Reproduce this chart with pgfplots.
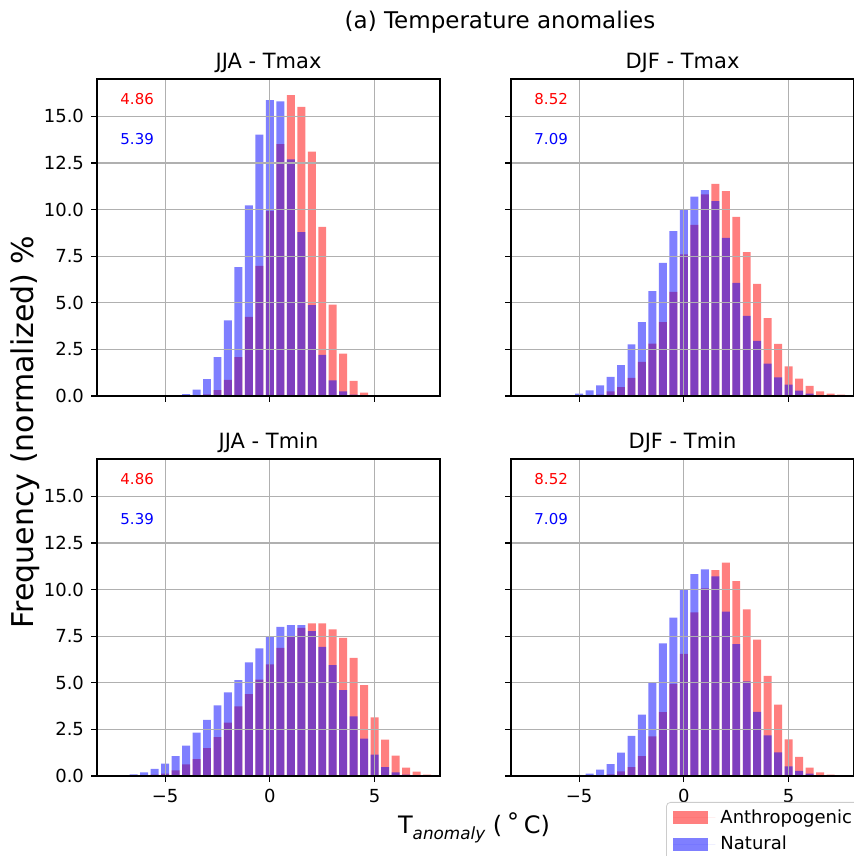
\documentclass[border=0pt]{standalone}
\usepackage{fontspec}
\setmainfont{DejaVu Sans}
\usepackage{pgfplots}
\pgfplotsset{compat=1.18}
\definecolor{gridgray}{RGB}{176,176,176}
\definecolor{legframe}{RGB}{204,204,204}
\pgfplotsset{
  panel/.style={
    scale only axis, width=171.5pt, height=158.5pt,
    xmin=-8.25, xmax=8.12, ymin=0, ymax=17,
    xtick={-5,0,5}, ytick={0,2.5,5,7.5,10,12.5,15},
    grid=major, major grid style={draw=gridgray, line width=0.6pt},
    axis on top, tick align=outside, major tick length=3pt,
    tick pos=left,
    tick style={black, line width=0.6pt},
    axis line style={line width=0.6pt},
    every tick label/.append style={font=\fontsize{9}{10}\selectfont},
    /pgf/number format/assume math mode=true,
  },
  lefty/.style={yticklabels={0.0,2.5,5.0,7.5,10.0,12.5,15.0}},
  noy/.style={yticklabels={}},
  bottomx/.style={xticklabels={−5,0,5}},
  nox/.style={xticklabels={}},
  redbar/.style={ybar, bar width=0.38, bar shift=0pt, fill=red, fill opacity=0.5, draw=none},
  bluebar/.style={ybar, bar width=0.38, bar shift=0pt, fill=blue, fill opacity=0.5, draw=none},
}
\newcommand{\annot}[2]{%
  \node[anchor=west, inner sep=0pt, text=red, font=\fontsize{7.5}{8.5}\selectfont] at (axis cs:-7.15,15.95) {#1};
  \node[anchor=west, inner sep=0pt, text=blue, font=\fontsize{7.5}{8.5}\selectfont] at (axis cs:-7.15,13.8) {#2};
}
\begin{document}
\begin{tikzpicture}
\path[use as bounding box] (0,0) rectangle (427pt,428pt);

% JJA - Tmax
\begin{axis}[panel, lefty, nox, at={(48.5pt,230pt)}, anchor=south west]
\addplot[redbar] coordinates {(-3.5,0.03) (-3.0,0.09) (-2.5,0.32) (-2.0,0.86) (-1.5,2.09) (-1.0,4.24) (-0.5,6.98) (0,9.93) (0.5,13.51) (1.0,16.13) (1.5,15.50) (2.0,13.10) (2.5,9.07) (3.0,4.90) (3.5,2.27) (4.0,0.81) (4.5,0.18) (5.0,0.04)};
\addplot[bluebar] coordinates {(-5.0,0.02) (-4.5,0.05) (-4.0,0.10) (-3.5,0.34) (-3.0,0.91) (-2.5,2.08) (-2.0,4.06) (-1.5,6.91) (-1.0,10.22) (-0.5,14.01) (0,15.86) (0.5,15.80) (1.0,12.69) (1.5,8.79) (2.0,4.87) (2.5,2.20) (3.0,0.84) (3.5,0.25) (4.0,0.07)};
\annot{4.86}{5.39}
\end{axis}

% DJF - Tmax
\begin{axis}[panel, noy, nox, at={(255.5pt,230pt)}, anchor=south west]
\addplot[redbar] coordinates {(-4.5,0.03) (-4.0,0.07) (-3.5,0.25) (-3.0,0.48) (-2.5,0.97) (-2.0,1.83) (-1.5,2.81) (-1.0,3.96) (-0.5,5.58) (0,7.59) (0.5,9.18) (1.0,10.81) (1.5,11.38) (2.0,10.99) (2.5,9.61) (3.0,7.71) (3.5,6.01) (4.0,4.17) (4.5,2.79) (5.0,1.59) (5.5,0.93) (6.0,0.54) (6.5,0.25) (7.0,0.13) (7.5,0.07)};
\addplot[bluebar] coordinates {(-6.0,0.02) (-5.5,0.04) (-5.0,0.13) (-4.5,0.30) (-4.0,0.57) (-3.5,1.02) (-3.0,1.66) (-2.5,2.77) (-2.0,3.96) (-1.5,5.62) (-1.0,7.14) (-0.5,8.84) (0,9.97) (0.5,10.69) (1.0,11.04) (1.5,10.45) (2.0,8.48) (2.5,6.07) (3.0,4.30) (3.5,2.95) (4.0,1.74) (4.5,1.00) (5.0,0.61) (5.5,0.29) (6.0,0.13) (6.5,0.04) (7.0,0.02)};
\annot{8.52}{7.09}
\end{axis}

% JJA - Tmin
\begin{axis}[panel, lefty, bottomx, at={(48.5pt,40pt)}, anchor=south west]
\addplot[redbar] coordinates {(-6.0,0.02) (-5.5,0.07) (-5.0,0.13) (-4.5,0.30) (-4.0,0.63) (-3.5,0.91) (-3.0,1.49) (-2.5,2.08) (-2.0,2.86) (-1.5,3.74) (-1.0,4.39) (-0.5,5.17) (0,5.98) (0.5,6.87) (1.0,7.50) (1.5,7.95) (2.0,8.18) (2.5,8.18) (3.0,7.86) (3.5,7.41) (4.0,6.34) (4.5,4.87) (5.0,3.15) (5.5,1.95) (6.0,1.09) (6.5,0.45) (7.0,0.23) (7.5,0.07)};
\addplot[bluebar] coordinates {(-7.5,0.02) (-7.0,0.04) (-6.5,0.09) (-6.0,0.20) (-5.5,0.38) (-5.0,0.66) (-4.5,1.07) (-4.0,1.63) (-3.5,2.33) (-3.0,3.01) (-2.5,3.79) (-2.0,4.49) (-1.5,5.14) (-1.0,6.09) (-0.5,6.84) (0,7.50) (0.5,8.00) (1.0,8.09) (1.5,8.09) (2.0,7.77) (2.5,6.93) (3.0,5.94) (3.5,4.60) (4.0,3.20) (4.5,2.00) (5.0,1.15) (5.5,0.48) (6.0,0.20) (6.5,0.07) (7.0,0.02)};
\annot{4.86}{5.39}
\end{axis}

% DJF - Tmin
\begin{axis}[panel, noy, bottomx, at={(255.5pt,40pt)}, anchor=south west,
  legend style={at={(0.452,-0.082)}, anchor=north west, draw=legframe, rounded corners=2pt,
    fill=white, font=\fontsize{9}{10.8}\selectfont, inner xsep=3.5pt, inner ysep=1pt,
    nodes={inner sep=2.5pt}},
  legend cell align=left,
  legend image code/.code={\fill[#1, sharp corners] (0pt,-3.25pt) rectangle (17.5pt,3.25pt); \path (0pt,0pt) -- (21pt,0pt);}]
\addplot[redbar] coordinates {(-4.0,0.03) (-3.5,0.09) (-3.0,0.25) (-2.5,0.48) (-2.0,1.06) (-1.5,2.13) (-1.0,3.42) (-0.5,4.94) (0,6.55) (0.5,8.77) (1.0,10.06) (1.5,11.04) (2.0,11.44) (2.5,10.45) (3.0,8.93) (3.5,7.32) (4.0,5.37) (4.5,3.83) (5.0,1.97) (5.5,1.02) (6.0,0.45) (6.5,0.20) (7.0,0.07)};
\addlegendentry{Anthropogenic}
\addplot[bluebar] coordinates {(-5.5,0.01) (-5.0,0.04) (-4.5,0.13) (-4.0,0.34) (-3.5,0.64) (-3.0,1.25) (-2.5,2.15) (-2.0,3.29) (-1.5,5.03) (-1.0,7.11) (-0.5,8.50) (0,10.02) (0.5,10.83) (1.0,11.08) (1.5,10.70) (2.0,8.81) (2.5,7.07) (3.0,5.08) (3.5,3.44) (4.0,2.18) (4.5,1.27) (5.0,0.52) (5.5,0.27) (6.0,0.13) (6.5,0.04)};
\addlegendentry{Natural}
\annot{8.52}{7.09}
\end{axis}

% titles and labels
\node[anchor=base, font=\fontsize{11.5}{13}\selectfont] at (250pt,413.5pt) {(a) Temperature anomalies};
\node[anchor=base, font=\fontsize{10.5}{12}\selectfont] at (134.25pt,393.8pt) {JJA - Tmax};
\node[anchor=base, font=\fontsize{10.5}{12}\selectfont] at (341.25pt,393.8pt) {DJF - Tmax};
\node[anchor=base, font=\fontsize{10.5}{12}\selectfont] at (134.25pt,203.8pt) {JJA - Tmin};
\node[anchor=base, font=\fontsize{10.5}{12}\selectfont] at (341.25pt,203.8pt) {DJF - Tmin};
\node[rotate=90, font=\fontsize{15}{17}\selectfont] at (12.5pt,212pt) {Frequency (normalized) \%};
\node[anchor=base, font=\fontsize{12}{14}\selectfont] at (237pt,11.5pt) {T\raisebox{-0.25em}{\fontsize{8.4}{10}\selectfont\itshape anomaly} (\hspace{0.2em}\raisebox{0.1em}{°}\hspace{0.2em}C)};
\end{tikzpicture}
\end{document}
